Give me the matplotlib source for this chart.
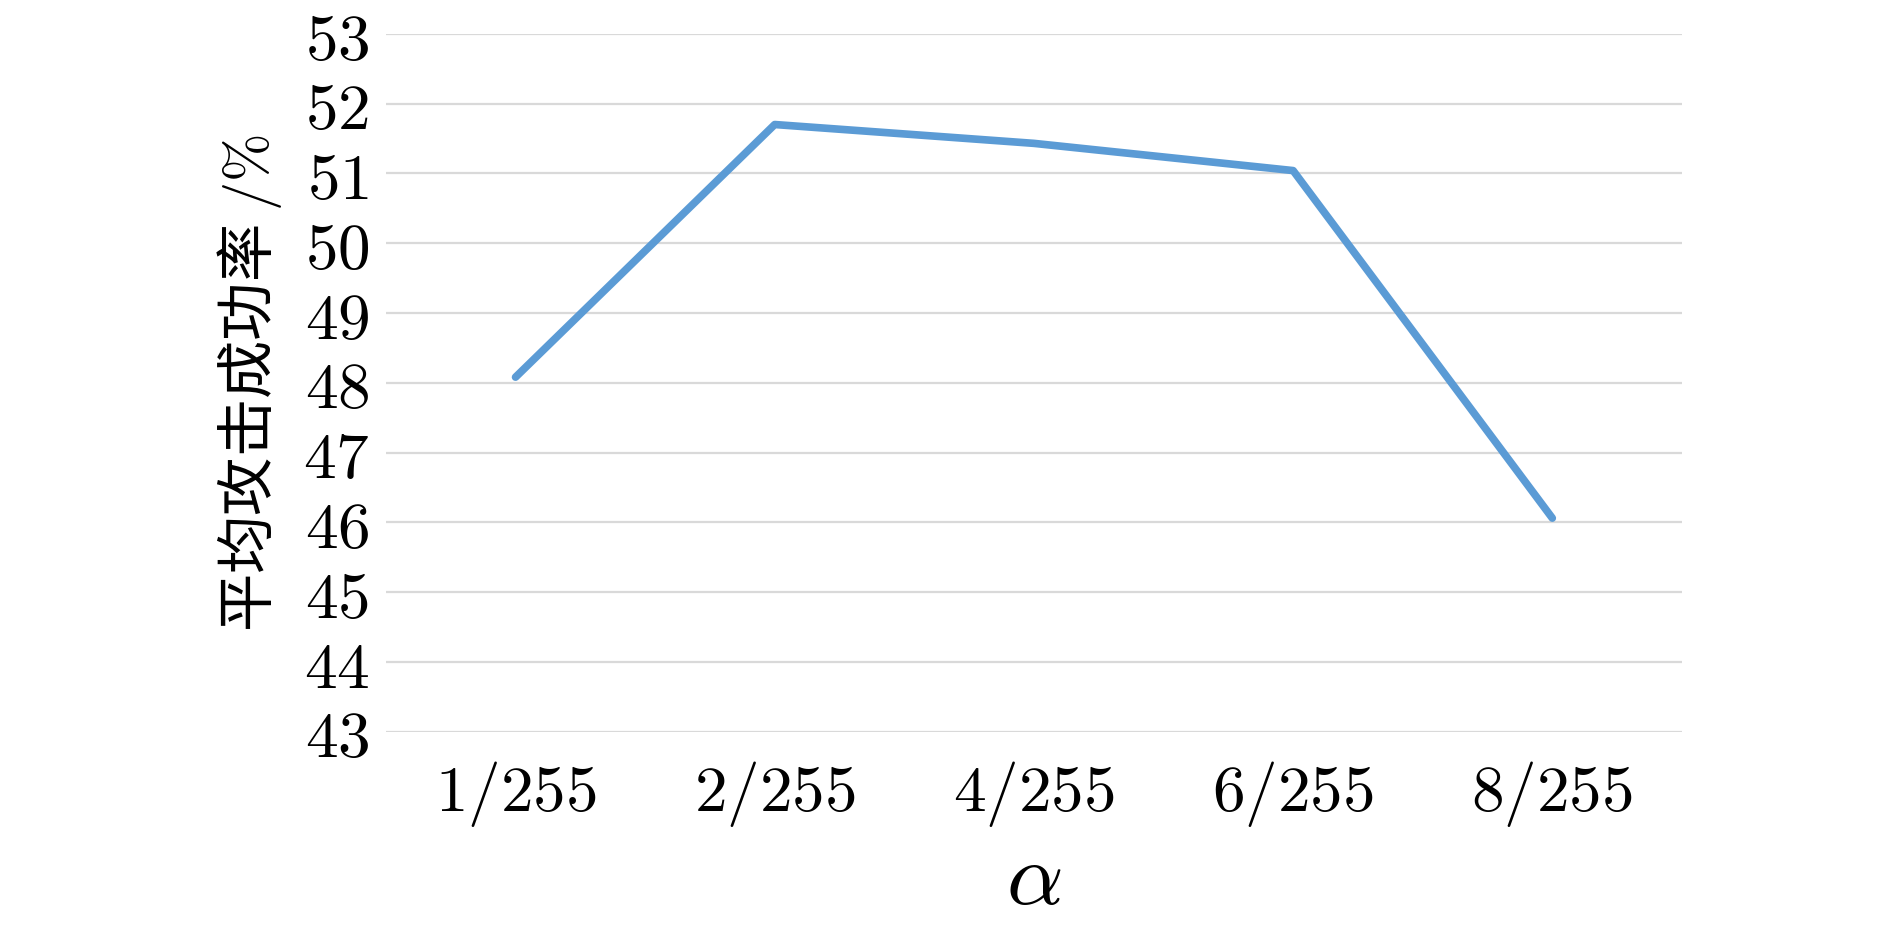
import matplotlib
matplotlib.use("Agg")
import matplotlib.pyplot as plt

categories = ["1/255", "2/255", "4/255", "6/255", "8/255"]
success_rate = [48.08, 51.70, 51.43, 51.04, 46.06]
y_ticks = [43, 44, 45, 46, 47, 48, 49, 50, 51, 52, 53]

plt.rcParams['mathtext.fontset'] = 'cm'
plt.rcParams['font.family'] = ['Noto Sans CJK SC', 'DejaVu Sans']

fig = plt.figure(figsize=(18.9, 9.31), dpi=100)
ax = fig.add_axes([0.2042, 0.2141, 0.6857, 0.7496])

x = list(range(len(categories)))
ax.plot(x, success_rate, color='#5b9bd5', linewidth=5.5, solid_capstyle='round', zorder=3)

ax.set_xlim(-0.5, len(categories) - 0.5)
ax.set_ylim(43, 53)
ax.set_yticks(y_ticks)
ax.set_yticklabels([f"${v}$" for v in y_ticks], fontsize=47)
ax.set_xticks(x)
ax.set_xticklabels([f"${c}$" for c in categories], fontsize=47)

ax.grid(axis='y', color='#d9d9d9', linewidth=1.6, zorder=0)
ax.set_axisbelow(True)
for s in ax.spines.values():
    s.set_visible(False)
ax.tick_params(axis='both', length=0)
ax.tick_params(axis='y', pad=12)
ax.tick_params(axis='x', pad=20)

ax.set_xlabel(r"$\alpha$", fontsize=64, labelpad=2)
ax.set_ylabel("平均攻击成功率 $/\\mathit{\\%}$", fontsize=42, labelpad=14)

fig.savefig("out.png", dpi=100)
